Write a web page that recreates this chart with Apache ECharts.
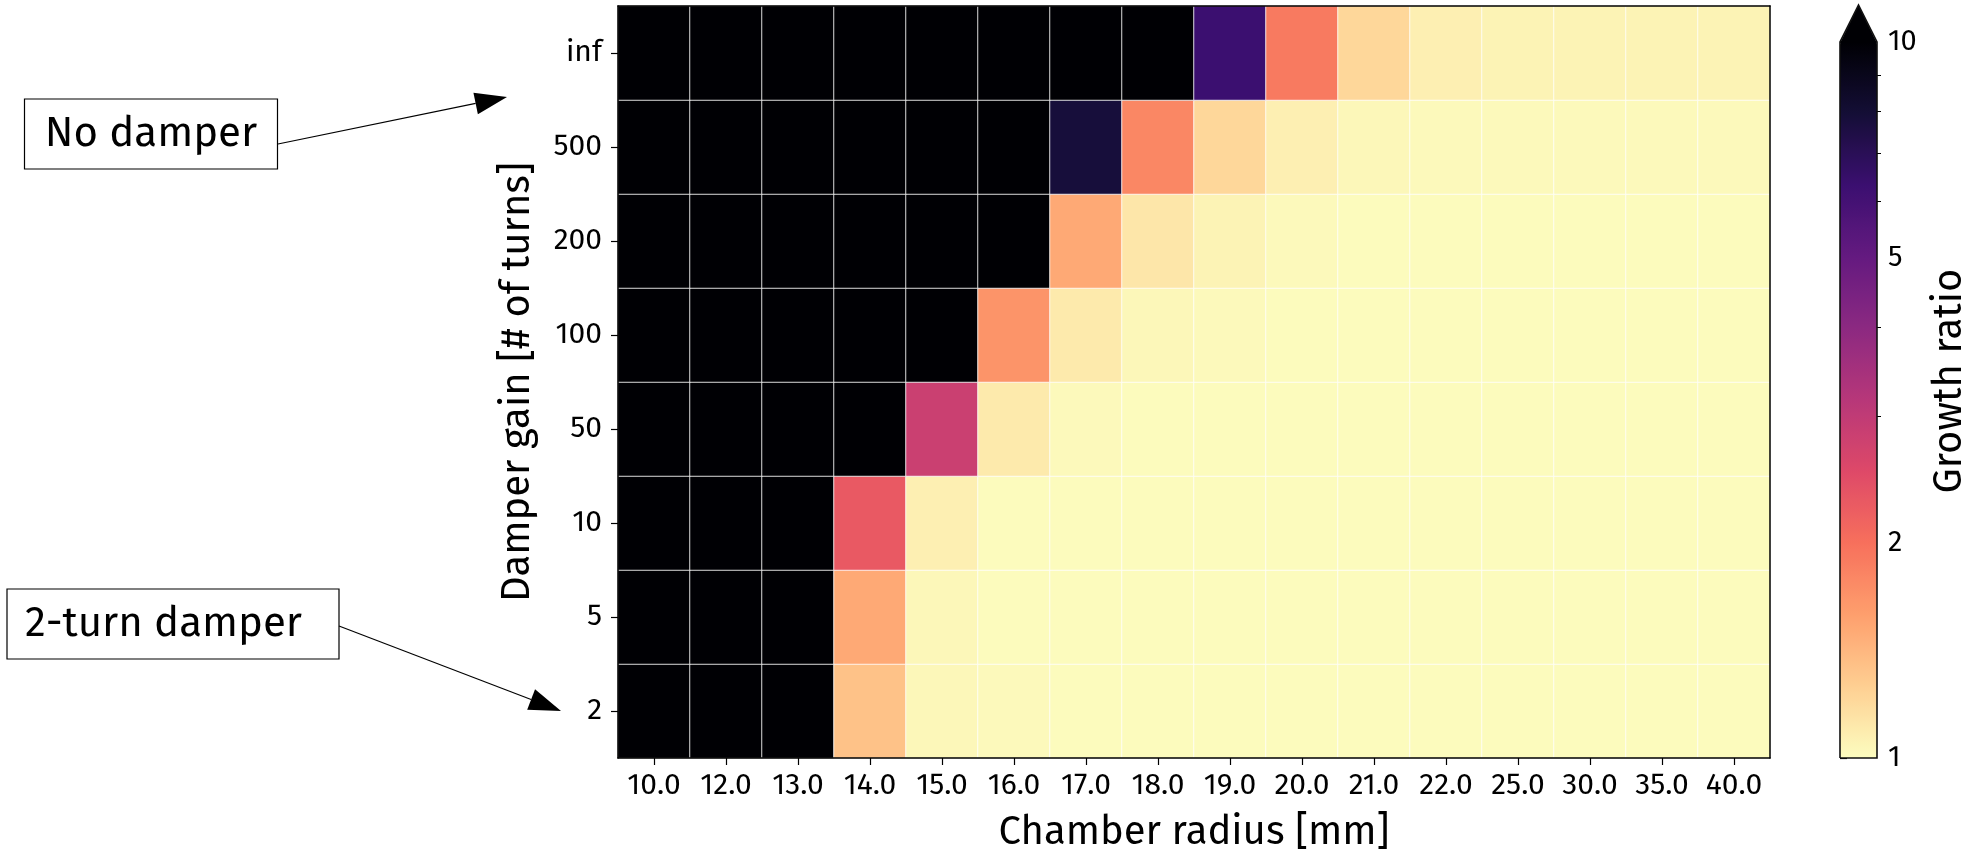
<!DOCTYPE html>
<html><head><meta charset="utf-8">
<script src="https://cdn.jsdelivr.net/npm/echarts@6/dist/echarts.min.js"></script>
<style>html,body{margin:0;padding:0;background:#fff}#c{width:1979px;height:849px}</style>
</head><body><div id="c"></div>
<script>
// ---------- data ----------
const radii = [10, 12, 13, 14, 15, 16, 17, 18, 19, 20, 21, 22, 25, 30, 35, 40];   // Chamber radius [mm]
const gains = ['2', '5', '10', '50', '100', '200', '500', 'inf'];                 // Damper gain, bottom -> top
// growth ratio per damper gain (one value per chamber radius)
const ratio_2   = [40, 35, 30, 1.34, 1.03, 1.02, 1.01, 1.01, 1.01, 1.01, 1.01, 1.01, 1.01, 1.01, 1.01, 1.01];
const ratio_5   = [40, 35, 30, 1.51, 1.03, 1.01, 1.01, 1.01, 1.01, 1.01, 1.01, 1.01, 1.01, 1.01, 1.01, 1.01];
const ratio_10  = [45, 40, 35, 2.28, 1.07, 1.01, 1.01, 1.01, 1.01, 1.01, 1.01, 1.01, 1.01, 1.01, 1.01, 1.01];
const ratio_50  = [45, 40, 35, 20, 2.82, 1.10, 1.02, 1.01, 1.01, 1.01, 1.01, 1.01, 1.01, 1.01, 1.01, 1.01];
const ratio_100 = [50, 45, 40, 30, 15, 1.67, 1.10, 1.03, 1.02, 1.01, 1.01, 1.01, 1.01, 1.01, 1.01, 1.01];
const ratio_200 = [50, 45, 40, 35, 25, 12, 1.51, 1.12, 1.05, 1.02, 1.01, 1.01, 1.01, 1.01, 1.01, 1.01];
const ratio_500 = [50, 45, 40, 35, 30, 20, 7.8, 1.78, 1.21, 1.07, 1.03, 1.02, 1.02, 1.02, 1.02, 1.02];
const ratio_inf = [50, 45, 40, 35, 30, 25, 15, 11, 6.3, 1.90, 1.21, 1.07, 1.05, 1.05, 1.05, 1.05];
const colorbarTicks = [1, 2, 5, 10];
const colorbarMinorTicks = [3, 4, 6, 7, 8, 9];

// ---------- styles / layout ----------
const FONT = "'Fira Sans', 'Open Sans', 'Noto Sans', sans-serif";
const PLOT = { left: 618, top: 6, width: 1152, height: 752 };
const CB = { left: 1840, top: 42, width: 37, height: 716, tip: 5 };
// magma colormap, reversed (value 1 -> light, value 10 -> black), log scale
const MAGMA_R = ['#fcfdbf', '#fecf92', '#fe9f6d', '#f7705c', '#de4968', '#b73779',
                 '#8c2981', '#641a80', '#3b0f70', '#140e36', '#000004'];

const rows = [ratio_2, ratio_5, ratio_10, ratio_50, ratio_100, ratio_200, ratio_500, ratio_inf];
const cells = [];
rows.forEach((row, yi) => row.forEach((v, xi) => cells.push([xi, yi, Math.log10(v), v])));

function arrow(x0, y0, x1, y1) {
  const dx = x1 - x0, dy = y1 - y0, L = Math.hypot(dx, dy), ux = dx / L, uy = dy / L;
  const hl = 32, hw = 11;
  const bx = x1 - ux * hl, by = y1 - uy * hl;
  return [
    { type: 'line', z: 100, shape: { x1: x0, y1: y0, x2: bx, y2: by }, style: { stroke: '#000', lineWidth: 1.2 } },
    { type: 'polygon', z: 100, shape: { points: [[x1, y1], [bx - uy * hw, by + ux * hw], [bx + uy * hw, by - ux * hw]] }, style: { fill: '#000' } }
  ];
}

const cbL = CB.left, cbR = CB.left + CB.width, cbT = CB.top, cbB = CB.top + CB.height, cbM = CB.left + CB.width / 2;

const chart = echarts.init(document.getElementById('c'), null, { renderer: 'canvas' });
chart.setOption({
  animation: false,
  backgroundColor: '#fff',
  textStyle: { fontFamily: FONT, color: '#000' },
  grid: [
    { left: PLOT.left, top: PLOT.top, width: PLOT.width, height: PLOT.height, containLabel: false, outerBoundsMode: 'none' },
    { left: CB.left, top: CB.top, width: CB.width, height: CB.height, containLabel: false, outerBoundsMode: 'none' }
  ],
  xAxis: [
    {
      type: 'category', gridIndex: 0, position: 'bottom', z: 10,
      data: radii.map(r => r.toFixed(1)),
      axisLine: { show: true, lineStyle: { color: '#000', width: 1.5 } },
      axisTick: { show: true, alignWithLabel: true, length: 7, lineStyle: { color: '#000', width: 1.2 } },
      axisLabel: { interval: 0, fontSize: 30, color: '#000', margin: 13, fontFamily: FONT },
      splitLine: { show: false },
      name: 'Chamber radius [mm]', nameLocation: 'middle', nameGap: 55,
      nameTextStyle: { fontSize: 40, color: '#000', fontFamily: FONT }
    },
    {
      type: 'category', gridIndex: 0, position: 'top', z: 10,
      data: radii.map(r => r.toFixed(1)),
      axisLine: { show: true, lineStyle: { color: '#000', width: 1.5 } },
      axisTick: { show: false }, axisLabel: { show: false }, splitLine: { show: false }
    },
    { type: 'value', gridIndex: 1, min: 0, max: 1, show: false }
  ],
  yAxis: [
    {
      type: 'category', gridIndex: 0, position: 'left', z: 10,
      data: gains,
      axisLine: { show: true, lineStyle: { color: '#000', width: 1.5 } },
      axisTick: { show: true, alignWithLabel: true, length: 7, lineStyle: { color: '#000', width: 1.2 } },
      axisLabel: { interval: 0, fontSize: 30, color: '#000', margin: 16, fontFamily: FONT },
      splitLine: { show: false },
      name: 'Damper gain [# of turns]', nameLocation: 'middle', nameGap: 80,
      nameTextStyle: { fontSize: 40, color: '#000', fontFamily: FONT }
    },
    {
      type: 'category', gridIndex: 0, position: 'right', z: 10,
      data: gains,
      axisLine: { show: true, lineStyle: { color: '#000', width: 1.5 } },
      axisTick: { show: false }, axisLabel: { show: false }, splitLine: { show: false }
    },
    {
      type: 'value', gridIndex: 1, position: 'right', min: 0, max: 1,
      axisLine: { show: false }, splitLine: { show: false },
      axisTick: { show: true, customValues: colorbarTicks.map(Math.log10), length: 7, lineStyle: { color: '#000', width: 1.2 } },
      axisLabel: {
        show: true, customValues: colorbarTicks.map(Math.log10), fontSize: 29, color: '#000', margin: 11, fontFamily: FONT,
        formatter: v => String(Math.round(Math.pow(10, v)))
      }
    },
    {
      type: 'value', gridIndex: 1, position: 'right', min: 0, max: 1,
      axisLine: { show: false }, splitLine: { show: false }, axisLabel: { show: false },
      axisTick: { show: true, customValues: colorbarMinorTicks.map(Math.log10), length: 4, lineStyle: { color: '#000', width: 1 } }
    }
  ],
  visualMap: {
    type: 'continuous', min: 0, max: 1, dimension: 2, seriesIndex: 0,
    calculable: false, show: true, hoverLink: false,
    left: CB.left, top: CB.top, itemWidth: CB.width, itemHeight: CB.height,
    padding: 0, text: null, orient: 'vertical',
    inRange: { color: MAGMA_R }
  },
  series: [{
    type: 'heatmap', xAxisIndex: 0, yAxisIndex: 0,
    data: cells,
    itemStyle: { borderColor: 'rgba(255,255,255,0.8)', borderWidth: 1 },
    emphasis: { disabled: true }
  }],
  graphic: [
    // colorbar extend-max triangle and outline
    { type: 'polygon', z: 90, shape: { points: [[cbL, cbT + 1], [cbM, CB.tip], [cbR, cbT + 1]] }, style: { fill: '#000004' } },
    { type: 'polyline', z: 91, shape: { points: [[cbL, cbB], [cbL, cbT], [cbM, CB.tip], [cbR, cbT], [cbR, cbB], [cbL, cbB]] },
      style: { stroke: '#111', lineWidth: 1.6, fill: null } },
    { type: 'text', z: 100, x: 1950, y: 381, rotation: Math.PI / 2,
      style: { text: 'Growth ratio', fontSize: 40, fontFamily: FONT, fill: '#000', align: 'center', verticalAlign: 'middle' } },
    // annotation: No damper
    { type: 'rect', z: 100, shape: { x: 24.5, y: 99, width: 253, height: 70 }, style: { fill: '#fff', stroke: '#000', lineWidth: 1.2 } },
    { type: 'text', z: 101, x: 151, y: 134,
      style: { text: 'No damper', fontSize: 42, fontFamily: FONT, fill: '#000', align: 'center', verticalAlign: 'middle' } },
    ...arrow(278, 144, 507, 97),
    // annotation: 2-turn damper
    { type: 'rect', z: 100, shape: { x: 7, y: 589, width: 332, height: 70 }, style: { fill: '#fff', stroke: '#000', lineWidth: 1.2 } },
    { type: 'text', z: 101, x: 25, y: 624,
      style: { text: '2-turn damper', fontSize: 42, fontFamily: FONT, fill: '#000', align: 'left', verticalAlign: 'middle' } },
    ...arrow(339, 626, 561, 711)
  ]
});
</script>
</body></html>
